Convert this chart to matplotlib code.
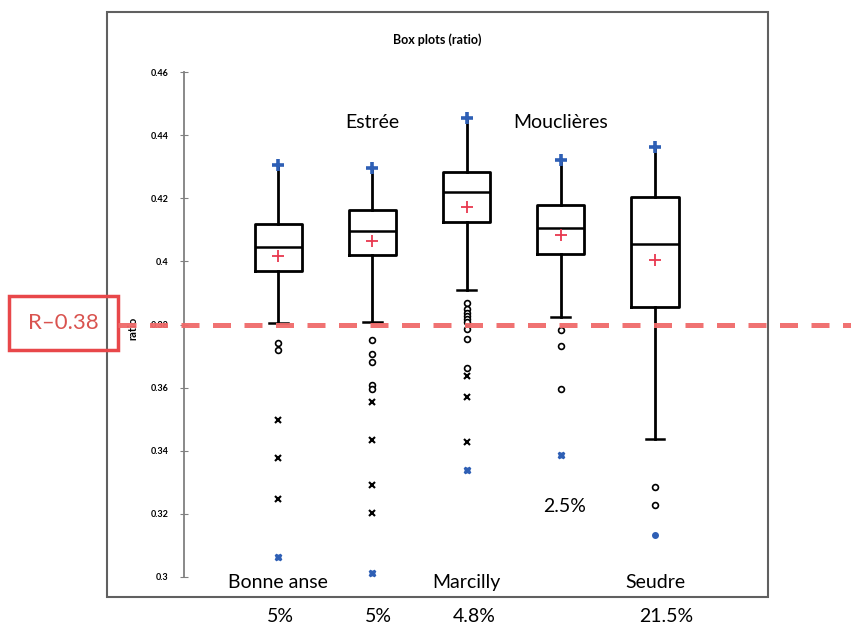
import matplotlib
matplotlib.use("Agg")
import matplotlib.pyplot as plt
from matplotlib.patches import Rectangle
from matplotlib.lines import Line2D
from matplotlib.ticker import FuncFormatter
import matplotlib.transforms as mtransforms

plt.rcParams['font.family'] = ['Lato', 'DejaVu Sans']

# Données
sites = ["Bonne anse", "Estrée", "Marcilly", "Mouclières", "Seudre"]
q1 = [0.3968, 0.4019, 0.4126, 0.4023, 0.3855]
mediane = [0.4046, 0.4097, 0.4220, 0.4106, 0.4056]
q3 = [0.4119, 0.4163, 0.4283, 0.4179, 0.4204]
moyenne = [0.4018, 0.4063, 0.4172, 0.4082, 0.4003]
moust_bas = [0.3804, 0.3809, 0.3910, 0.3825, 0.3437]
maximum = [0.4306, 0.4297, 0.4454, 0.4320, 0.4361]
minimum = [0.3064, 0.3013, 0.3339, 0.3387, 0.3133]
aberrants_o = [
    [0.3740, 0.3720],
    [0.3751, 0.3707, 0.3682, 0.3609, 0.3596],
    [0.3869, 0.3850, 0.3837, 0.3827, 0.3818, 0.3808, 0.3786, 0.3754, 0.3663],
    [0.3783, 0.3732, 0.3596],
    [0.3285, 0.3228],
]
aberrants_x = [
    [0.3496, 0.3378, 0.3247],
    [0.3555, 0.3434, 0.3292, 0.3203],
    [0.3637, 0.3571, 0.3428],
    [],
    [],
]
pourcentages = ["5%", "5%", "4.8%", "21.5%"]
seuil = 0.38

fig = plt.figure(figsize=(8.51, 6.30), dpi=100)
ax = fig.add_axes([184 / 851, 1 - 577 / 630, (768 - 184) / 851, (577 - 72) / 630])

stats = []
for i in range(len(sites)):
    stats.append(dict(med=mediane[i], q1=q1[i], q3=q3[i], whislo=moust_bas[i],
                      whishi=maximum[i], mean=moyenne[i], fliers=[]))
pos = list(range(1, len(sites) + 1))
bp = ax.bxp(stats, positions=pos, widths=0.5, showmeans=True, showfliers=False,
            capwidths=0.2,
            boxprops=dict(color="black", lw=2),
            medianprops=dict(color="black", lw=1.8),
            whiskerprops=dict(color="black", lw=2),
            capprops=dict(color="black", lw=1.8),
            meanprops=dict(marker="+", markeredgecolor="#e8384f", markersize=9, markeredgewidth=1.3))
for i in range(len(sites)):
    bp['caps'][2 * i + 1].set_visible(False)

bleu = "#2e5fb5"
ax.plot(pos, maximum, ls="none", marker="+", ms=8, mew=2.6, color=bleu, zorder=4)
ax.plot(pos[:4], minimum[:4], ls="none", marker="X", ms=5, color=bleu, mec=bleu, zorder=4)
ax.plot(pos[4:], minimum[4:], ls="none", marker="o", ms=4, color=bleu, zorder=4)
for i in range(len(sites)):
    ax.plot([pos[i]] * len(aberrants_o[i]), aberrants_o[i], ls="none", marker="o",
            ms=4.2, mfc="white", mec="black", mew=1.2, zorder=3)
    ax.plot([pos[i]] * len(aberrants_x[i]), aberrants_x[i], ls="none", marker="x",
            ms=4.5, color="black", mew=1.5, zorder=3)

ax.set_xlim(0, 6.2)
ax.set_ylim(0.3, 0.46)
ax.set_yticks([0.30, 0.32, 0.34, 0.36, 0.38, 0.40, 0.42, 0.44, 0.46])
ax.yaxis.set_major_formatter(FuncFormatter(lambda v, p: "%g" % round(v, 2)))
ax.set_xticks([])
for s in ["top", "right", "bottom"]:
    ax.spines[s].set_visible(False)
ax.spines["left"].set_color("#808080")
ax.spines["left"].set_linewidth(1.3)
ax.tick_params(axis="y", direction="inout", length=6, color="#808080", labelsize=6.5, pad=8)
for t in ax.get_yticklabels():
    t.set_fontweight("bold")

# Noms des sites
ax.text(2, 0.4441, "Estrée", ha="center", va="center", fontsize=14)
ax.text(4, 0.4441, "Mouclières", ha="center", va="center", fontsize=14)
ax.text(1, 0.2984, "Bonne anse", ha="center", va="center", fontsize=14)
ax.text(3, 0.2984, "Marcilly", ha="center", va="center", fontsize=14)
ax.text(5, 0.2984, "Seudre", ha="center", va="center", fontsize=14)
ax.text(4.04, 0.3222, "2.5%", ha="center", va="center", fontsize=14)

tr = mtransforms.blended_transform_factory(ax.transData, fig.transFigure)
for xp, lab in zip([1.02, 2.06, 3.08, 5.12], pourcentages):
    ax.text(xp, 1 - 617 / 630, lab, transform=tr, ha="center", va="center", fontsize=14,
            clip_on=False)

# Cadre du graphique
fig.patches.append(Rectangle((107 / 851, 1 - 597 / 630), (768 - 107) / 851, (597 - 12) / 630,
                             transform=fig.transFigure, fill=False, edgecolor="#606060", lw=1.5))
fig.text(437 / 851, 1 - 40 / 630, "Box plots (ratio)", ha="center", va="center",
         fontsize=9, fontweight="bold")
fig.text(133 / 851, 1 - 328 / 630, "ratio", rotation=90, ha="center", va="center",
         fontsize=8, fontweight="bold")

# Seuil R = 0.38
trs = mtransforms.blended_transform_factory(fig.transFigure, ax.transData)
fig.lines.append(Line2D([118 / 851, 1.0], [seuil, seuil], transform=trs, color="#f06a6a",
                        lw=3.6, ls=(0, (3.6, 2.7)), alpha=0.95, zorder=5))
fig.patches.append(Rectangle((9 / 851, 1 - 350 / 630), 109 / 851, 54 / 630,
                             transform=fig.transFigure, fill=False, edgecolor="#e8474a", lw=2.5))
fig.text(63 / 851, 1 - 323 / 630, "R–0.38", ha="center", va="center", fontsize=16,
         color="#d9534f")

fig.savefig("out.png", dpi=100)
